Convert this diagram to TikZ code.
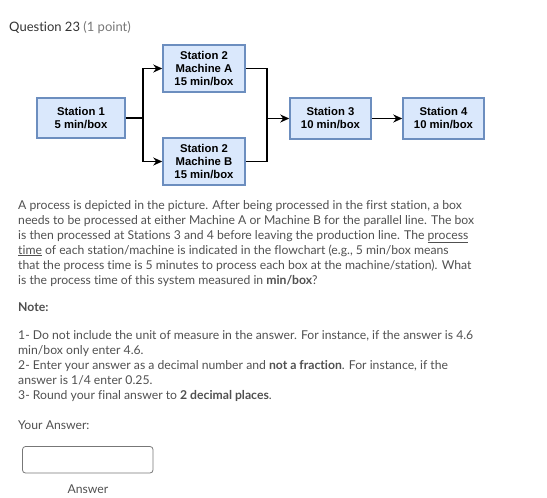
\documentclass[tikz,border=0pt]{standalone}
\usepackage{fontspec}
\setmainfont[Ligatures=NoCommon]{Lato}
\newfontfamily\boxfont{Liberation Sans}
\usetikzlibrary{arrows.meta,positioning}
\definecolor{boxfill}{HTML}{DAE8FC}
\definecolor{boxline}{HTML}{6C8EBF}
\definecolor{bodytext}{HTML}{505050}
\definecolor{headtext}{HTML}{333333}
\definecolor{softtext}{HTML}{777777}

\begin{document}
\begin{tikzpicture}[
		x=1pt,
		y=-1pt,
		station/.style={
			draw=boxline,
			fill=boxfill,
			line width=1.5pt,
			inner sep=0pt,
			align=center,
			font=\boxfont\bfseries\fontsize{11.3}{13}\selectfont,
		},
		flow/.style={
			line width=1.4pt,
			-{Stealth[length=9pt,width=8pt]},
		},
		wire/.style={
			line width=1.4pt,
		},
		line/.style={
			anchor=base west,
			inner sep=0pt,
			text=bodytext,
			font=\fontsize{12.2}{15}\selectfont,
		},
	]
		\useasboundingbox (0,0) rectangle (547,498);
		\node[line, text=headtext, font=\fontsize{13}{15}\selectfont] (title) at (9,31) {Question 23 \textcolor{softtext}{(1 point)}};

		\node[station, minimum width=88pt, minimum height=40pt] (st1) at (81,118) {Station 1\\5 min/box};
		\node[station, minimum width=82pt, minimum height=47pt] (st2a) at (204,68.5) {Station 2\\Machine A\\15 min/box};
		\node[station, minimum width=82pt, minimum height=47pt] (st2b) at (204,161.5) {Station 2\\Machine B\\15 min/box};
		\node[station, minimum width=81pt, minimum height=41pt] (st3) at (330.5,118.5) {Station 3\\10 min/box};
		\node[station, minimum width=81pt, minimum height=41pt] (st4) at (443.5,118.5) {Station 4\\10 min/box};

		\coordinate (split) at (143,118);
		\coordinate (merge) at (267,118.5);
		\draw[wire] (st1.east) -- (split);
		\draw[flow] (split) |- (st2a.west);
		\draw[flow] (split) |- (st2b.west);
		\draw[wire] (st2a.east) -| (merge);
		\draw[wire] (st2b.east) -| (merge);
		\draw[flow] (merge) -- (st3.west);
		\draw[flow] (st3.east) -- (st4.west);

		\node[line] (p1) at (18,209) {A process is depicted in the picture. After being processed in the first station, a box};
		\node[line] (p2) at (18,224) {needs to be processed at either Machine A or Machine B for the parallel line. The box};
		\node[line] (p3) at (18,239) {is then processed at Stations 3 and 4 before leaving the production line. The \underline{process}};
		\node[line] (p4) at (18,254) {\underline{time} of each station/machine is indicated in the flowchart (e.g., 5 min/box means};
		\node[line] (p5) at (18,269) {that the process time is 5 minutes to process each box at the machine/station). What};
		\node[line] (p6) at (18,284) {is the process time of this system measured in \textbf{min/box}?};

		\node[line, font=\bfseries\fontsize{12.2}{15}\selectfont] (note) at (18,311) {Note:};
		\node[line] (n1) at (18,339) {1- Do not include the unit of measure in the answer. For instance, if the answer is 4.6};
		\node[line] (n2) at (18,354) {min/box only enter 4.6.};
		\node[line] (n3) at (18,369) {2- Enter your answer as a decimal number and \textbf{not a fraction}. For instance, if the};
		\node[line] (n4) at (18,384) {answer is 1/4 enter 0.25.};
		\node[line] (n5) at (18,399) {3- Round your final answer to \textbf{2 decimal places}.};

		\node[line] (your) at (18,429) {Your Answer:};
		\draw[draw=softtext, line width=0.8pt, rounded corners=3pt] (22.5,446.5) rectangle (153,473);
		\node[line, anchor=base] (ans) at (88,493) {Answer};
	\end{tikzpicture}
\end{document}
